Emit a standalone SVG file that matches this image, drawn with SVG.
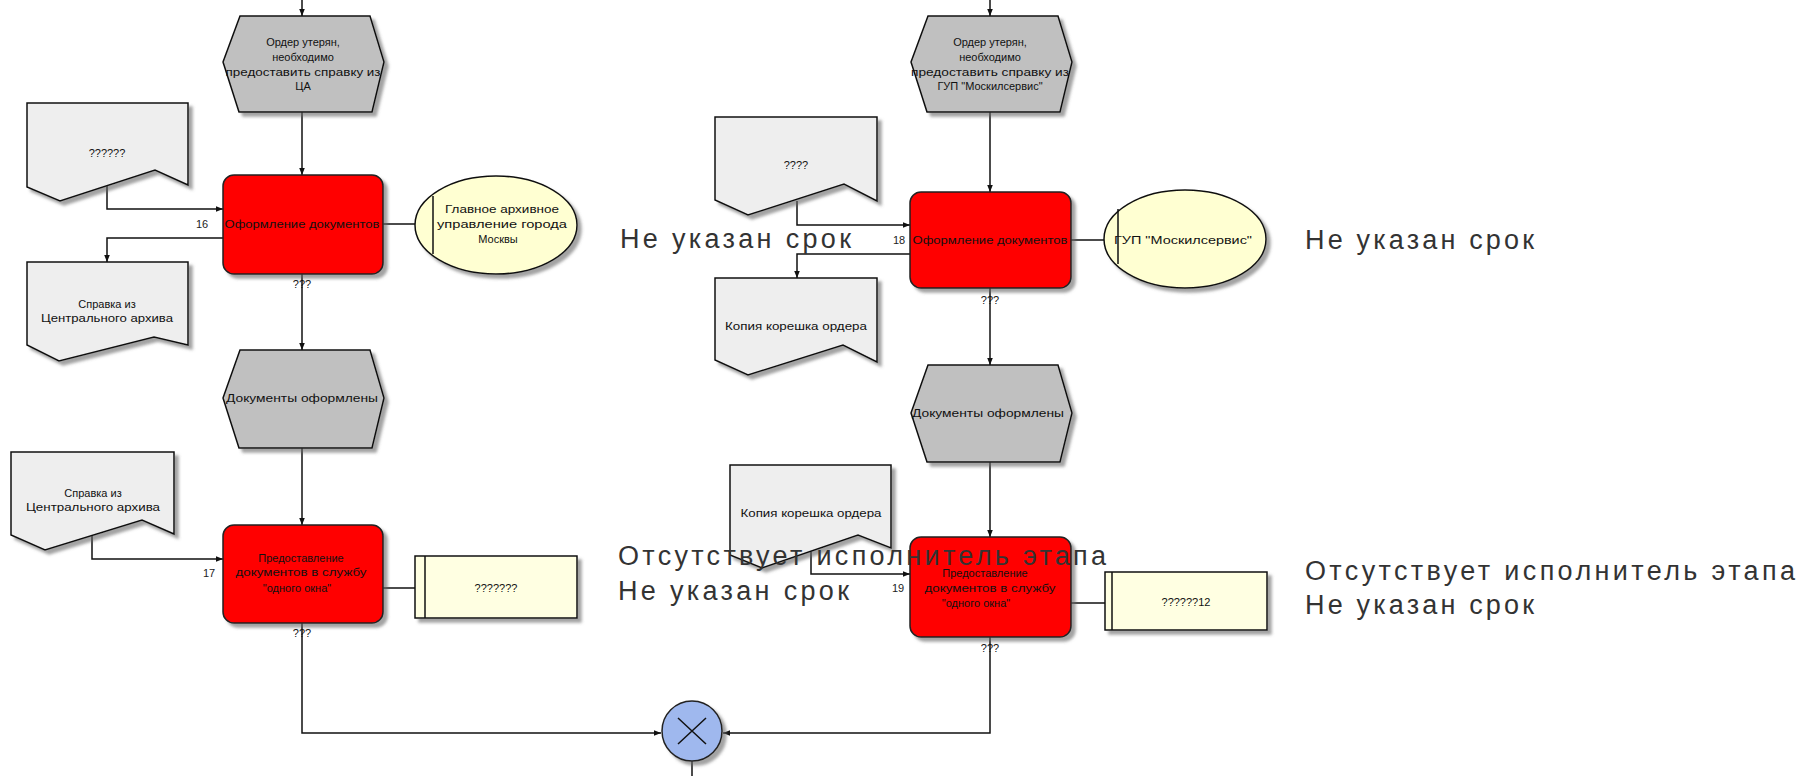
<svg xmlns="http://www.w3.org/2000/svg" width="1805" height="776" viewBox="0 0 1805 776">
<style>
.bg{fill:#ffffff}
.hex{fill:#c0c0c0;stroke:#111;stroke-width:1.5;filter:url(#sh)}
.fn{fill:#ff0000;stroke:#222;stroke-width:1.5;filter:url(#sh)}
.doc{fill:#eeeeee;stroke:#111;stroke-width:1.5;filter:url(#sh)}
.org{fill:#ffffd2;stroke:#111;stroke-width:1.5;filter:url(#sh)}
.sys{fill:#ffffe2;stroke:#111;stroke-width:1.5;filter:url(#sh)}
.gw{fill:#9fb8ee;stroke:#222;stroke-width:1.5;filter:url(#sh)}
.ln{fill:none;stroke:#111;stroke-width:1.5}
.cn{fill:none;stroke:#111;stroke-width:1.5}
.arr{marker-end:url(#ah)}
.t{font-family:"Liberation Sans",Arial,sans-serif;font-size:11px;fill:#111;text-anchor:middle}
.tl{font-family:"Liberation Sans",Arial,sans-serif;font-size:11px;fill:#222}
.big{font-family:"Liberation Sans",Arial,sans-serif;font-size:27px;fill:#333}
</style>
<defs>
<filter id="sh" x="-10%" y="-10%" width="130%" height="130%">
<feDropShadow dx="4" dy="4" stdDeviation="1.5" flood-color="#666" flood-opacity="0.6"/>
</filter>
<marker id="ah" viewBox="0 0 10 10" refX="10" refY="5" markerWidth="7" markerHeight="7" markerUnits="userSpaceOnUse" orient="auto">
<path d="M0,1 L10,5 L0,9 z" fill="#111"/>
</marker>
</defs>
<rect class="bg" x="0" y="0" width="1805" height="776"/>

<g id="connectors">
<path class="cn arr" d="M302,0 V16"/>
<path class="cn arr" d="M990,0 V16"/>
<path class="cn arr" d="M302,112 V175"/>
<path class="cn arr" d="M107,186 V209 H223"/>
<path class="cn arr" d="M223,238 H107 V262"/>
<path class="cn" d="M383,224 H415"/>
<path class="cn arr" d="M302,274 V350"/>
<path class="cn arr" d="M302,448 V525"/>
<path class="cn arr" d="M92,534 V559 H223"/>
<path class="cn" d="M383,588 H415"/>
<path class="cn arr" d="M302,623 V733 H661"/>
<path class="cn arr" d="M990,112 V192"/>
<path class="cn arr" d="M797,201 V225 H910"/>
<path class="cn arr" d="M910,254 H797 V278"/>
<path class="cn" d="M1071,240 H1104"/>
<path class="cn arr" d="M990,288 V365"/>
<path class="cn arr" d="M990,462 V537"/>
<path class="cn arr" d="M811,543 V574 H910"/>
<path class="cn" d="M1071,603 H1105"/>
<path class="cn arr" d="M990,637 V733 H723"/>
<path class="cn" d="M692,761 V776"/>
</g>

<g id="ev1">
<polygon class="hex" points="240,16 370,16 384,62 372,112 239,112 223,62"/>
<text class="t" x="303" y="46">Ордер утерян,</text>
<text class="t" x="303" y="61">необходимо</text>
<text class="t" x="303" y="76" textLength="155" lengthAdjust="spacingAndGlyphs">предоставить справку из</text>
<text class="t" x="303" y="90">ЦА</text>
</g>

<g id="fn16">
<rect class="fn" x="223" y="175" width="160" height="99" rx="11"/>
<text class="tl" x="196" y="228">16</text>
<text class="t" x="302" y="228" textLength="155" lengthAdjust="spacingAndGlyphs">Оформление документов</text>
<text class="t" x="302" y="288">???</text>
</g>

<g id="doc1">
<path class="doc" d="M27,103 H188 V185 L155,170 L60,201 L27,187 Z"/>
<text class="t" x="107" y="157">??????</text>
</g>

<g id="doc2">
<path class="doc" d="M27,262 H188 V345 L154,337 L59,361 L27,345 Z"/>
<text class="t" x="107" y="308">Справка из</text>
<text class="t" x="107" y="322" textLength="132" lengthAdjust="spacingAndGlyphs">Центрального архива</text>
</g>

<g id="org1">
<ellipse class="org" cx="496" cy="225" rx="81" ry="49"/>
<path class="ln" d="M433,196 V254"/>
<text class="t" x="502" y="213" textLength="114" lengthAdjust="spacingAndGlyphs">Главное архивное</text>
<text class="t" x="502" y="228" textLength="130" lengthAdjust="spacingAndGlyphs">управление города</text>
<text class="t" x="498" y="243">Москвы</text>
</g>

<g id="ev2">
<polygon class="hex" points="240,350 370,350 384,398 372,448 239,448 223,398"/>
<text class="t" x="302" y="402" textLength="152" lengthAdjust="spacingAndGlyphs">Документы оформлены</text>
</g>

<g id="doc3">
<path class="doc" d="M11,452 H174 V534 L142,520 L45,550 L11,535 Z"/>
<text class="t" x="93" y="497">Справка из</text>
<text class="t" x="93" y="511" textLength="134" lengthAdjust="spacingAndGlyphs">Центрального архива</text>
</g>

<g id="fn17">
<rect class="fn" x="223" y="525" width="160" height="98" rx="11"/>
<text class="tl" x="203" y="577">17</text>
<text class="t" x="301" y="562">Предоставление</text>
<text class="t" x="301" y="576" textLength="131" lengthAdjust="spacingAndGlyphs">документов в службу</text>
<text class="t" x="297" y="592">"одного окна"</text>
<text class="t" x="302" y="637">???</text>
</g>

<g id="sys1">
<rect class="sys" x="415" y="556" width="162" height="62"/>
<path class="ln" d="M425,556 V618"/>
<text class="t" x="496" y="592">???????</text>
</g>

<g id="ev3">
<polygon class="hex" points="928,16 1058,16 1072,62 1060,112 927,112 911,62"/>
<text class="t" x="990" y="46">Ордер утерян,</text>
<text class="t" x="990" y="61">необходимо</text>
<text class="t" x="990" y="76" textLength="158" lengthAdjust="spacingAndGlyphs">предоставить справку из</text>
<text class="t" x="990" y="90">ГУП "Москилсервис"</text>
</g>

<g id="fn18">
<rect class="fn" x="910" y="192" width="161" height="96" rx="11"/>
<text class="tl" x="893" y="244">18</text>
<text class="t" x="990" y="244" textLength="155" lengthAdjust="spacingAndGlyphs">Оформление документов</text>
<text class="t" x="990" y="304">???</text>
</g>

<g id="doc4">
<path class="doc" d="M715,117 H877 V201 L844,184 L748,215 L715,200 Z"/>
<text class="t" x="796" y="169">????</text>
</g>

<g id="doc5">
<path class="doc" d="M715,278 H877 V362 L843,345 L748,375 L715,360 Z"/>
<text class="t" x="796" y="330" textLength="142" lengthAdjust="spacingAndGlyphs">Копия корешка ордера</text>
</g>

<g id="org2">
<ellipse class="org" cx="1185" cy="239" rx="81" ry="49"/>
<path class="ln" d="M1118,209 V264"/>
<text class="t" x="1183" y="244" textLength="138" lengthAdjust="spacingAndGlyphs">ГУП "Москилсервис"</text>
</g>

<g id="ev4">
<polygon class="hex" points="928,365 1058,365 1072,413 1060,462 927,462 911,413"/>
<text class="t" x="988" y="417" textLength="152" lengthAdjust="spacingAndGlyphs">Документы оформлены</text>
</g>

<g id="doc6">
<path class="doc" d="M730,465 H891 V548 L858,535 L762,568 L730,555 Z"/>
<text class="t" x="811" y="517" textLength="141" lengthAdjust="spacingAndGlyphs">Копия корешка ордера</text>
</g>

<g id="fn19">
<rect class="fn" x="910" y="537" width="161" height="100" rx="11"/>
<text class="tl" x="892" y="592">19</text>
<text class="t" x="985" y="577">Предоставление</text>
<text class="t" x="990" y="592" textLength="131" lengthAdjust="spacingAndGlyphs">документов в службу</text>
<text class="t" x="976" y="607">"одного окна"</text>
<text class="t" x="990" y="652">???</text>
</g>

<g id="sys2">
<rect class="sys" x="1105" y="572" width="162" height="58"/>
<path class="ln" d="M1112,572 V630"/>
<text class="t" x="1186" y="606">??????12</text>
</g>

<g id="gateway">
<circle class="gw" cx="692" cy="731" r="30"/>
<path class="ln" d="M678,718 L706,744 M706,718 L678,744" stroke="#223"/>
</g>

<g id="notes">
<text class="big" x="620" y="248" textLength="231" lengthAdjust="spacing">Не указан срок</text>
<text class="big" x="1305" y="249" textLength="229" lengthAdjust="spacing">Не указан срок</text>
<text class="big" x="618" y="565" textLength="488" lengthAdjust="spacing">Отсутствует исполнитель этапа</text>
<text class="big" x="618" y="600" textLength="231" lengthAdjust="spacing">Не указан срок</text>
<text class="big" x="1305" y="580" textLength="490" lengthAdjust="spacing">Отсутствует исполнитель этапа</text>
<text class="big" x="1305" y="614" textLength="229" lengthAdjust="spacing">Не указан срок</text>
</g>
</svg>
